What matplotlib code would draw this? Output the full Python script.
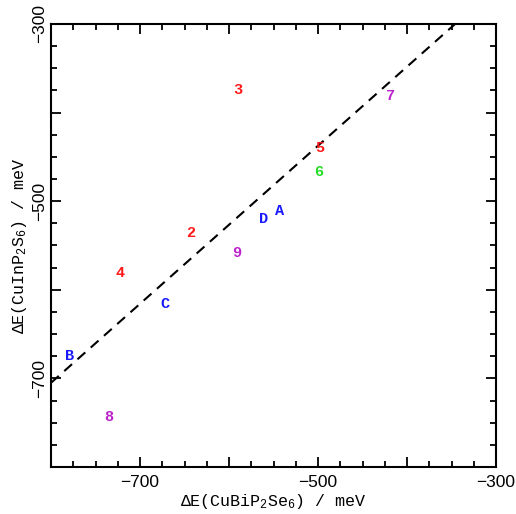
import matplotlib
matplotlib.use("Agg")
import matplotlib.pyplot as plt
import numpy as np
from matplotlib.ticker import MultipleLocator

plt.rcParams["mathtext.fontset"] = "custom"
plt.rcParams["mathtext.rm"] = "Liberation Mono"
plt.rcParams["mathtext.it"] = "Liberation Mono"
plt.rcParams["mathtext.bf"] = "Liberation Mono:bold"

labels = ["3", "7", "5", "6", "A", "D", "2", "9", "4", "C", "B", "8"]
x_vals = [-590, -418, -498, -499, -543, -561, -643, -591, -722, -672, -779, -735]
y_vals = [-375, -381, -440, -467, -511, -520, -536, -559, -581, -616, -675, -744]
colors = ["#ff1a1a", "#bb22cc", "#ff1a1a", "#22dd22", "#1a1aff", "#1a1aff",
          "#ff1a1a", "#bb22cc", "#ff1a1a", "#1a1aff", "#1a1aff", "#bb22cc"]

fit_slope = 0.892
fit_intercept_at_m800 = -705.0

fig = plt.figure(figsize=(5.16, 5.14), dpi=100)
ax = fig.add_axes([51/516, 47/514, 445/516, 443/514])

xl = np.array([-800, -300])
ax.plot(xl, fit_intercept_at_m800 + fit_slope * (xl + 800), color="black",
        lw=1.5, dashes=(5, 3.5))

for lab, x, y, c in zip(labels, x_vals, y_vals, colors):
    ax.text(x, y, lab, color=c, ha="center", va="center",
            family="Liberation Mono", fontweight="bold", fontsize=11)

ax.set_xlim(-800, -300)
ax.set_ylim(-800, -300)
ax.xaxis.set_major_locator(MultipleLocator(100))
ax.xaxis.set_minor_locator(MultipleLocator(25))
ax.yaxis.set_major_locator(MultipleLocator(100))
ax.yaxis.set_minor_locator(MultipleLocator(25))

def fmt(v, pos):
    v = int(round(v))
    return "\u2212%d" % abs(v) if v in (-700, -500, -300) else ""

ax.xaxis.set_major_formatter(plt.FuncFormatter(fmt))
ax.yaxis.set_major_formatter(plt.FuncFormatter(fmt))
ax.tick_params(which="both", direction="in", top=True, right=True, width=1.3)
ax.tick_params(which="major", length=7, labelsize=12.5)
ax.tick_params(axis="x", which="major", pad=6)
ax.tick_params(axis="y", which="major", pad=3)
ax.tick_params(which="minor", length=4)
for lbl in ax.get_xticklabels() + ax.get_yticklabels():
    lbl.set_family("Liberation Sans")
for lbl in ax.get_yticklabels():
    lbl.set_rotation(90)
    lbl.set_va("center")
for s in ax.spines.values():
    s.set_linewidth(1.5)

ax.set_xlabel("\u0394E(CuBiP$_2$Se$_6$) / meV", family="Liberation Mono",
              fontsize=12, labelpad=1)
ax.set_ylabel("\u0394E(CuInP$_2$S$_6$) / meV", family="Liberation Mono",
              fontsize=12, labelpad=2)

fig.savefig("out.png", dpi=100)
